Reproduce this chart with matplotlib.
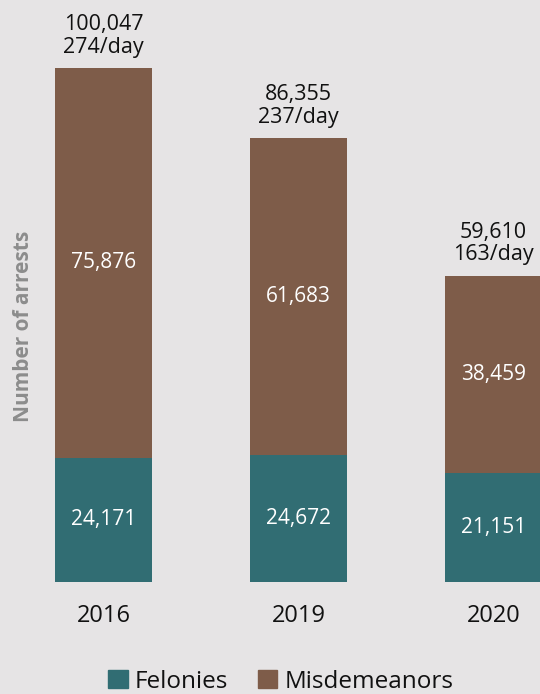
import matplotlib
matplotlib.use("Agg")
import matplotlib.pyplot as plt
from matplotlib.patches import Patch

# ===== data =====
years = ["2016", "2019", "2020"]
felonies = [24171, 24672, 21151]
misdemeanors = [75876, 61683, 38459]
totals = [100047, 86355, 59610]
per_day = [274, 237, 163]

BG = "#e6e4e5"
C_FEL = "#316d73"
C_MIS = "#7e5c49"

plt.rcParams["font.family"] = ["Open Sans", "DejaVu Sans"]

fig = plt.figure(figsize=(5.40, 6.94), dpi=100, facecolor=BG)
ax = fig.add_axes([0, 0.1614, 1, 0.8386])
ax.set_facecolor(BG)

x = list(range(len(years)))
W = 0.5
ax.bar(x, felonies, W, color=C_FEL, label="Felonies")
ax.bar(x, misdemeanors, W, bottom=felonies, color=C_MIS, label="Misdemeanors")

for i in x:
    ax.text(i, felonies[i] / 2, f"{felonies[i]:,}", ha="center", va="center",
            color="white", fontsize=15)
    ax.text(i, felonies[i] + misdemeanors[i] / 2, f"{misdemeanors[i]:,}",
            ha="center", va="center", color="white", fontsize=15)
    ax.text(i, totals[i] + 2000, f"{totals[i]:,}\n{per_day[i]}/day",
            ha="center", va="bottom", color="#111111", fontsize=15.5,
            linespacing=1.1)

ax.set_xlim(-0.5308, 2.2385)
ax.set_ylim(0, 113282)
ax.set_xticks(x)
ax.set_xticklabels(years, fontsize=17, color="#111111")
ax.tick_params(axis="x", length=0, pad=16)
ax.set_yticks([])
for s in ax.spines.values():
    s.set_visible(False)

fig.text(0.043, 0.530, "Number of arrests", rotation=90, ha="center", va="center",
         fontsize=15, fontweight="bold", color="#8c8c8c")

handles = [Patch(color=C_FEL), Patch(color=C_MIS)]
fig.legend(handles, ["Felonies", "Misdemeanors"], loc="center",
           bbox_to_anchor=(0.52, 0.018), ncol=2, frameon=False, fontsize=17.5,
           handlelength=0.8, handleheight=0.8, handletextpad=0.3,
           columnspacing=1.2, labelcolor="#111111")

fig.savefig("out.png", dpi=100, facecolor=BG)
